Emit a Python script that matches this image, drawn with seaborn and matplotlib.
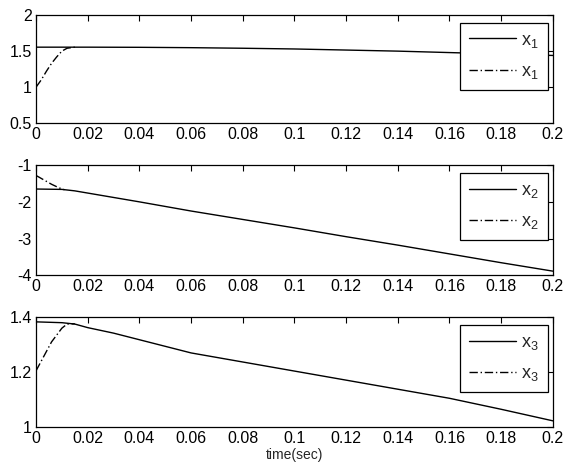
import numpy as np
import pandas as pd
import matplotlib
matplotlib.use("Agg")
import matplotlib.pyplot as plt
import seaborn as sns

# solid curves (sampled)
t_solid = [0, 0.01, 0.015, 0.02, 0.03, 0.04, 0.06, 0.08, 0.10, 0.12, 0.14, 0.16, 0.18, 0.20]
x1_solid = [1.555, 1.555, 1.555, 1.555, 1.554, 1.553, 1.548, 1.540, 1.530, 1.515, 1.500, 1.480, 1.460, 1.440]
x2_solid = [-1.65, -1.66, -1.70, -1.76, -1.88, -2.00, -2.25, -2.48, -2.71, -2.95, -3.18, -3.42, -3.66, -3.89]
x3_solid = [1.383, 1.380, 1.375, 1.362, 1.342, 1.318, 1.270, 1.237, 1.204, 1.171, 1.138, 1.105, 1.065, 1.023]

# dash-dot curves (initial transient)
t_d1 = [0, 0.002, 0.004, 0.006, 0.008, 0.010, 0.012, 0.015]
x1_dash = [1.00, 1.10, 1.22, 1.33, 1.42, 1.50, 1.54, 1.555]
t_d2 = [0, 0.003, 0.006, 0.009, 0.011]
x2_dash = [-1.28, -1.40, -1.52, -1.62, -1.67]
t_d3 = [0, 0.002, 0.004, 0.006, 0.008, 0.010, 0.012, 0.015]
x3_dash = [1.205, 1.24, 1.275, 1.31, 1.335, 1.36, 1.375, 1.376]

ylims = [(0.5, 2), (-4, -1), (1, 1.4)]
yticks = [[0.5, 1, 1.5, 2], [-4, -3, -2, -1], [1, 1.2, 1.4]]
names = ["x_1", "x_2", "x_3"]

sns.set_style("white")
plt.rcParams["font.family"] = ["Liberation Sans", "DejaVu Sans"]
plt.rcParams["mathtext.fontset"] = "custom"
plt.rcParams["mathtext.rm"] = "Liberation Sans"

fig = plt.figure(figsize=(5.63, 4.72), dpi=100)
boxes = [(0.064, 0.739, 0.918, 0.229),
         (0.064, 0.417, 0.918, 0.233),
         (0.064, 0.095, 0.918, 0.233)]

solids = [x1_solid, x2_solid, x3_solid]
dashes = [(t_d1, x1_dash), (t_d2, x2_dash), (t_d3, x3_dash)]

for i in range(3):
    ax = fig.add_axes(boxes[i])
    lab = r"$\mathregular{" + names[i] + "}$"
    df_s = pd.DataFrame({"t": t_solid, "v": solids[i]})
    df_d = pd.DataFrame({"t": dashes[i][0], "v": dashes[i][1]})
    sns.lineplot(data=df_s, x="t", y="v", ax=ax, color="black", lw=1.0, label=lab)
    sns.lineplot(data=df_d, x="t", y="v", ax=ax, color="black", lw=1.0,
                 linestyle=(0, (6, 2, 1, 2)), label=lab)
    ax.set_xlim(0, 0.2)
    ax.set_ylim(*ylims[i])
    ax.set_yticks(yticks[i])
    ax.set_yticklabels([f"{v:g}" for v in yticks[i]])
    ax.set_xticks(np.arange(0, 0.2001, 0.02))
    ax.set_xticklabels([f"{v:g}" for v in np.arange(0, 0.2001, 0.02).round(2)])
    ax.tick_params(direction="in", length=4, width=0.8, top=True, right=True,
                   labelsize=11.5, pad=3, colors="black")
    for sp in ax.spines.values():
        sp.set_color("black")
        sp.set_linewidth(0.9)
    ax.set_xlabel("")
    ax.set_ylabel("")
    leg = ax.legend(loc="upper right", bbox_to_anchor=(0.99, 0.93),
                    fontsize=13, frameon=True, fancybox=False, framealpha=1,
                    handlelength=2.6, borderpad=0.5, labelspacing=0.75,
                    handletextpad=0.3, borderaxespad=0)
    leg.get_frame().set_edgecolor("black")
    leg.get_frame().set_linewidth(0.9)
    if i == 2:
        ax.set_xlabel("time(sec)", fontsize=10, labelpad=1)

fig.savefig("out.png", dpi=100)
